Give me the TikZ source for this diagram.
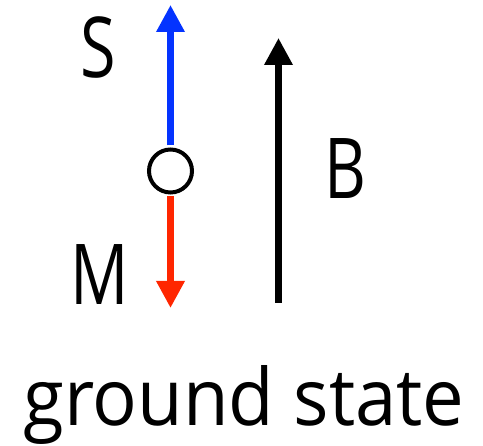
\documentclass[tikz,border=0pt]{standalone}
\usepackage{fontspec}
\newfontfamily\lblfont[FakeStretch=0.77]{Open Sans}
\newfontfamily\capfont[FakeStretch=0.94]{Open Sans}
\usetikzlibrary{arrows.meta}
\definecolor{kblue}{HTML}{0433FF}
\definecolor{kred}{HTML}{FF2600}
\begin{document}
\begin{tikzpicture}[x=1pt,y=1pt,
  spin/.style={line width=6.5pt,-{Triangle[length=27pt,width=27pt]}},
  lbl/.style={anchor=base,inner sep=0pt,font=\lblfont\fontsize{84}{90}\selectfont},
  caption/.style={anchor=base,inner sep=0pt,font=\capfont\fontsize{79}{85}\selectfont}]
\useasboundingbox (0,0) rectangle (483,446);
\node[circle,draw,line width=4pt,minimum size=43pt,inner sep=0pt,fill=white] (c) at (170.5,275) {};
\coordinate (stip) at (170.5,441);
\coordinate (mtip) at (170.5,138);
\coordinate (bbot) at (278.5,143);
\coordinate (btip) at (278.5,408);
\draw[spin,kblue,shorten <=2pt] (c.north) -- (stip);
\draw[spin,kred,shorten <=2pt] (c.south) -- (mtip);
\draw[spin,black] (bbot) -- (btip);
\node[lbl] (S) at (98.5,368) {S};
\node[lbl] (M) at (99.5,141) {M};
\node[lbl] (B) at (345.5,247) {B};
\node[caption] (gs) at (244,20) {ground state};
\end{tikzpicture}
\end{document}
